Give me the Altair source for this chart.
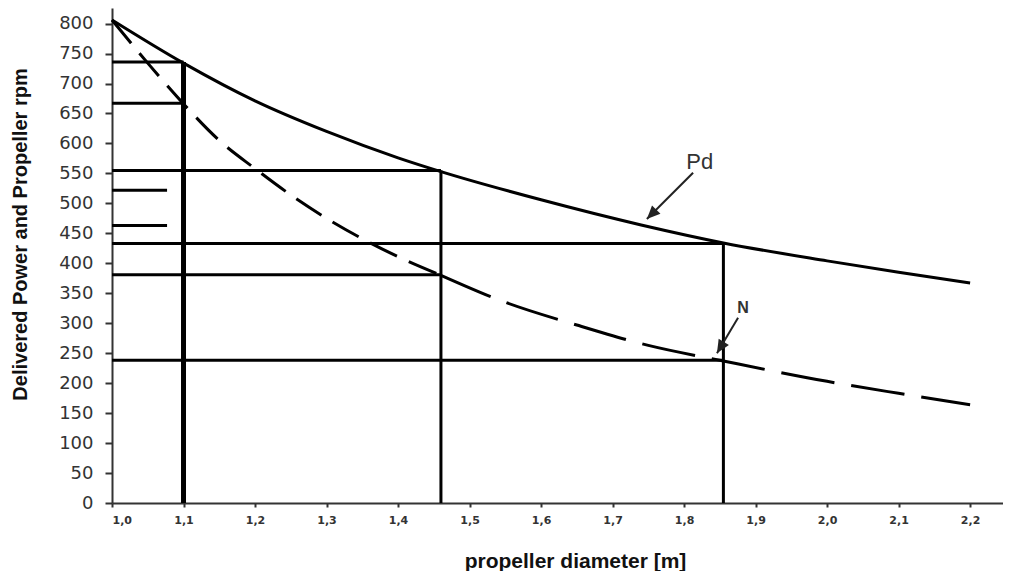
import altair as alt
import pandas as pd

# ---- data ----
pd_diam = [1.0, 1.1, 1.2, 1.3, 1.4, 1.46, 1.6, 1.74, 1.855, 2.0, 2.1, 2.2]
pd_power = [806, 734, 671, 620, 576, 553, 506, 464, 434, 404, 385, 367]

n_diam = [1.0, 1.05, 1.1, 1.15, 1.2, 1.25, 1.3, 1.35, 1.4, 1.46,
          1.55, 1.65, 1.75, 1.855, 2.0, 2.1, 2.2]
n_rpm = [806, 734, 666, 605, 558, 514, 475, 441, 411, 380,
         335, 297, 263, 237, 203, 183, 164]

# horizontal guide lines: start x, end x, level
h_x1 = [1.0, 1.0, 1.0, 1.0, 1.0, 1.0, 1.0, 1.0]
h_x2 = [1.1, 1.1, 1.46, 1.077, 1.077, 1.855, 1.46, 1.855]
h_y = [736, 667, 555, 522, 463, 433, 381, 238]

# vertical guide lines: x, top level
v_x = [1.1, 1.46, 1.855]
v_top = [736, 555, 433]
v_w = [5, 3, 3]

# annotation arrows (start -> tip) and labels
arr_x1 = [1.8126, 1.8755]
arr_y1 = [551, 309]
arr_x2 = [1.748, 1.846]
arr_y2 = [474, 250]
arr_angle = [225, 211]
lab_text = ["Pd", "N"]
lab_x = [1.822, 1.8825]
lab_y = [569, 325]

x_ticks = [round(1.0 + 0.1 * i, 1) for i in range(13)]
y_ticks = list(range(0, 801, 50))

# ---- tables ----
df_pd = pd.DataFrame({"x": pd_diam, "y": pd_power})
df_n = pd.DataFrame({"x": n_diam, "y": n_rpm})
df_h = pd.DataFrame({"x": h_x1, "x2": h_x2, "y": h_y})
df_v = pd.DataFrame({"x": v_x, "y": [0] * len(v_x), "y2": v_top, "w": v_w})
df_arr = pd.DataFrame({"x": arr_x1, "y": arr_y1, "x2": arr_x2, "y2": arr_y2,
                       "angle": arr_angle})
df_tip = pd.DataFrame({"x": arr_x2, "y": arr_y2, "angle": arr_angle})
df_lab = pd.DataFrame({"x": lab_x, "y": lab_y, "t": lab_text})

FONT = "Liberation Sans"

X = alt.X("x:Q",
          scale=alt.Scale(domain=[1.0, 2.246], nice=False, zero=False),
          axis=alt.Axis(values=x_ticks, format=".1f",
                        labelExpr="replace(datum.label, '.', ',')",
                        labelFont="DejaVu Sans", labelFontSize=11,
                        labelFontWeight="bold",
                        labelColor="#333", tickSize=4, tickColor="#333",
                        tickWidth=2, domainColor="#333", domainWidth=2,
                        labelPadding=7, grid=False,
                        title="propeller diameter [m]", titleFont=FONT,
                        titleFontSize=21, titleFontWeight="bold",
                        titleColor="#111", titleX=463, titleY=58,
                        titleAlign="center", titleBaseline="middle"))
Y = alt.Y("y:Q",
          scale=alt.Scale(domain=[0, 826], nice=False),
          axis=alt.Axis(values=y_ticks, labelFont="DejaVu Sans",
                        labelFontSize=18, labelColor="#333", tickSize=7,
                        tickColor="#333", tickWidth=2, domainColor="#333",
                        domainWidth=2, labelPadding=12, grid=False,
                        title="Delivered Power and Propeller rpm",
                        titleFont=FONT, titleFontSize=20,
                        titleFontWeight="bold", titleColor="#111",
                        titleAngle=270, titleX=-92, titleY=226,
                        titleAlign="center", titleBaseline="middle"))

hlines = alt.Chart(df_h).mark_rule(color="black", strokeWidth=3).encode(
    x=X, x2="x2:Q", y=Y)

vlines = alt.Chart(df_v).mark_rule(color="black").encode(
    x=X, y=Y, y2="y2:Q",
    strokeWidth=alt.StrokeWidth("w:Q", scale=None, legend=None))

pd_line = alt.Chart(df_pd).mark_line(color="black", strokeWidth=3,
                                     interpolate="monotone").encode(x=X, y=Y)

n_early = alt.Chart(df_n).transform_filter("datum.x <= 1.46").mark_line(
    color="black", strokeWidth=3, interpolate="monotone",
    strokeDash=[30, 13]).encode(x=X, y=Y)
n_late = alt.Chart(df_n).transform_filter("datum.x >= 1.46").mark_line(
    color="black", strokeWidth=3, interpolate="monotone",
    strokeDash=[54, 17]).encode(x=X, y=Y)

arrows = alt.Chart(df_arr).mark_rule(color="#222", strokeWidth=2).encode(
    x=X, y=Y, x2="x2:Q", y2="y2:Q")

tips = alt.Chart(df_tip).mark_point(
    shape="M0,0L-0.45,1L0.45,1Z", filled=True, color="#222", opacity=1,
    size=700).encode(x=X, y=Y, angle=alt.Angle("angle:Q", scale=None))

label_pd = alt.Chart(df_lab).transform_filter("datum.t == 'Pd'").mark_text(
    font=FONT, color="#333", baseline="middle", align="center",
    fontSize=22).encode(x=X, y=Y, text="t:N")
label_n = alt.Chart(df_lab).transform_filter("datum.t == 'N'").mark_text(
    font=FONT, color="#333", baseline="middle", align="center",
    fontSize=16, fontWeight="bold").encode(x=X, y=Y, text="t:N")

chart = alt.layer(hlines, vlines, pd_line, n_early, n_late, arrows, tips,
                  label_pd, label_n).properties(
    width=891, height=495,
    autosize=alt.AutoSizeParams(type="none"),
    padding={"left": 104, "top": 0, "right": 0, "bottom": 68},
).configure_view(stroke=None)

chart.save("out.html", embed_options={"renderer": "svg", "actions": False})
